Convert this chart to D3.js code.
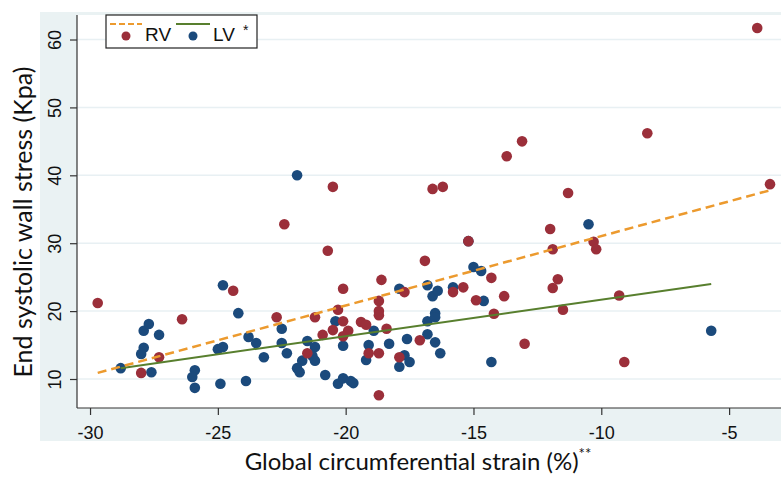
<!DOCTYPE html>
<html>
<head>
<meta charset="utf-8">
<script src="https://cdn.jsdelivr.net/npm/d3@7"></script>
<style>
  body { margin: 0; background: #fff; }
  svg { display: block; }
</style>
</head>
<body>
<div id="chart"></div>
<script>
// RV points (strain %, wall stress Kpa)
var rvStrain = [-29.7,-26.4,-27.3,-28.0,-24.4,-22.7,-21.2,-21.5,-20.7,-16.9,-15.2,-11.9,-14.3,-11.7,-11.9,-18.6,-20.1,-17.7,-15.8,-15.4,
  -18.7,-14.9,-13.8,-20.3,-18.7,-18.7,-20.1,-19.4,-19.2,-18.4,-20.5,-19.9,-20.9,-20.1,-14.2,-13.0,-17.1,-19.1,-18.7,-17.9,
  -18.7,-20.5,-16.6,-16.2,-13.7,-13.1,-22.4,-3.9,-8.2,-3.4,-11.3,-12.0,-10.3,-10.2,-9.3,-11.5,-9.1];
var rvStress = [21.2,18.8,13.2,10.9,23.0,19.1,19.1,13.8,28.9,27.4,30.3,29.1,24.9,24.7,23.4,24.6,23.3,22.8,22.8,23.5,
  21.5,21.6,22.2,20.2,20.0,19.4,18.5,18.4,18.0,17.4,17.2,17.1,16.5,16.3,19.6,15.2,15.7,13.8,13.8,13.2,
  7.6,38.3,38.0,38.3,42.8,45.0,32.8,61.7,46.2,38.7,37.4,32.1,30.2,29.1,22.3,20.2,12.5];

// LV points
var lvStrain = [-28.8,-27.9,-27.7,-27.3,-27.9,-28.0,-27.6,-24.8,-24.2,-23.8,-23.5,-23.2,-25.0,-24.8,-25.9,-26.0,-25.9,-24.9,-23.9,-22.5,
  -22.5,-22.3,-21.5,-21.2,-21.3,-21.2,-21.7,-21.9,-21.8,-20.8,-20.4,-20.1,-20.3,-20.1,-19.8,-19.7,-19.1,-19.2,-18.9,-18.3,
  -17.6,-17.7,-17.5,-17.9,-17.9,-16.8,-16.6,-16.4,-16.8,-16.5,-16.5,-16.8,-16.5,-16.3,-15.8,-15.0,-14.7,-14.6,-14.3,-15.2,
  -10.5,-5.7,-21.9];
var lvStress = [11.6,17.1,18.1,16.5,14.6,13.7,11.0,23.8,19.7,16.2,15.3,13.2,14.4,14.7,11.3,10.3,8.7,9.3,9.7,17.4,
  15.3,13.8,15.6,14.7,13.4,12.7,12.7,11.6,11.0,10.6,18.5,14.9,9.3,10.1,9.7,9.4,15.0,12.8,17.1,15.2,
  15.9,13.5,12.5,11.8,23.3,23.8,22.2,23.0,18.5,19.7,19.1,16.6,15.4,13.8,23.5,26.5,25.9,21.5,12.5,30.3,
  32.8,17.1,40.0];

// fitted lines (end points)
var rvFitX = [-29.7, -3.4];
var rvFitY = [10.9, 37.8];
var lvFitX = [-28.8, -5.7];
var lvFitY = [11.6, 24.0];

var xTicks = [-30, -25, -20, -15, -10, -5];
var yTicks = [10, 20, 30, 40, 50, 60];

var width = 781, height = 477;
var plot = {left: 77, right: 781, top: 15, bottom: 408};

var svg = d3.select('#chart')
  .append('svg')
  .attr('width', width)
  .attr('height', height);

// graph region (light blue) and plot region (white)
svg.append('rect')
  .attr('x', 40).attr('y', 12)
  .attr('width', width - 40).attr('height', 441 - 12)
  .attr('fill', '#eaf2f3');
svg.append('rect')
  .attr('x', plot.left).attr('y', plot.top)
  .attr('width', plot.right - plot.left).attr('height', plot.bottom - plot.top)
  .attr('fill', '#fff');

var x = d3.scaleLinear().domain([-30.51, -2.97]).range([plot.left, plot.right]);
var y = d3.scaleLinear().domain([5.73, 63.61]).range([plot.bottom, plot.top]);

// grid
svg.append('g')
  .selectAll('line')
  .data(yTicks)
  .enter()
  .append('line')
  .attr('x1', plot.left).attr('x2', plot.right)
  .attr('y1', function(d) { return y(d); })
  .attr('y2', function(d) { return y(d); })
  .attr('stroke', '#e8f0f3')
  .attr('stroke-width', 1.5);

// axes
var axisY = d3.axisLeft(y).tickValues(yTicks).tickSize(7).tickSizeOuter(0);
var axisYG = svg.append('g')
  .attr('transform', 'translate(' + plot.left + ',0)')
  .call(axisY);
axisYG.select('.domain').attr('stroke', '#333').attr('stroke-width', 1.2)
  .attr('d', 'M0,' + plot.top + 'V' + plot.bottom);
axisYG.selectAll('.tick line').attr('stroke', '#333').attr('stroke-width', 1.2);
axisYG.selectAll('.tick text')
  .attr('font-family', 'Liberation Sans, Arial, sans-serif')
  .attr('font-size', 18)
  .attr('fill', '#111')
  .attr('text-anchor', 'middle')
  .attr('dy', 0)
  .attr('x', 0)
  .attr('transform', 'translate(-16,0) rotate(-90)');

var axisX = d3.axisBottom(x).tickValues(xTicks).tickSize(7).tickSizeOuter(0);
var axisXG = svg.append('g')
  .attr('transform', 'translate(0,' + plot.bottom + ')')
  .call(axisX);
axisXG.select('.domain').attr('stroke', '#333').attr('stroke-width', 1.2)
  .attr('d', 'M' + plot.left + ',0H' + plot.right);
axisXG.selectAll('.tick line').attr('stroke', '#333').attr('stroke-width', 1.2);
axisXG.selectAll('.tick text')
  .attr('font-family', 'Liberation Sans, Arial, sans-serif')
  .attr('font-size', 18)
  .attr('fill', '#111')
  .attr('y', 31)
  .attr('dy', 0)
  .text(function(d) { return d; });

// points: LV first, RV on top
var red = '#9b2f3a', blue = '#1b4a7c', orange = '#ec9a2e', green = '#587f2e';

svg.append('g')
  .selectAll('circle')
  .data(d3.range(lvStrain.length))
  .enter()
  .append('circle')
  .attr('cx', function(i) { return x(lvStrain[i]); })
  .attr('cy', function(i) { return y(lvStress[i]); })
  .attr('r', 5.3)
  .attr('fill', blue);

svg.append('g')
  .selectAll('circle')
  .data(d3.range(rvStrain.length))
  .enter()
  .append('circle')
  .attr('cx', function(i) { return x(rvStrain[i]); })
  .attr('cy', function(i) { return y(rvStress[i]); })
  .attr('r', 5.3)
  .attr('fill', red);

// fit lines
var line = d3.line()
  .x(function(d) { return x(d[0]); })
  .y(function(d) { return y(d[1]); });

svg.append('path')
  .datum(d3.zip(lvFitX, lvFitY))
  .attr('d', line)
  .attr('fill', 'none')
  .attr('stroke', green)
  .attr('stroke-width', 2);

svg.append('path')
  .datum(d3.zip(rvFitX, rvFitY))
  .attr('d', line)
  .attr('fill', 'none')
  .attr('stroke', orange)
  .attr('stroke-width', 2.5)
  .attr('stroke-dasharray', '9,5');

// axis titles
svg.append('text')
  .attr('transform', 'translate(32,222) rotate(-90)')
  .attr('text-anchor', 'middle')
  .attr('font-family', 'Lato, sans-serif')
  .attr('font-size', 25)
  .attr('fill', '#111')
  .text('End systolic wall stress (Kpa)');

var xt = svg.append('text')
  .attr('x', 418)
  .attr('y', 470)
  .attr('text-anchor', 'middle')
  .attr('font-family', 'Lato, sans-serif')
  .attr('font-size', 24)
  .attr('fill', '#111');
xt.append('tspan').text('Global circumferential strain (%)');
xt.append('tspan').attr('font-size', 15).attr('dy', -11).text('**');

// legend
var lg = svg.append('g');
lg.append('rect')
  .attr('x', 106).attr('y', 15)
  .attr('width', 151).attr('height', 33)
  .attr('fill', '#fff')
  .attr('stroke', '#222')
  .attr('stroke-width', 1.2);
lg.append('line')
  .attr('x1', 110).attr('x2', 142).attr('y1', 24).attr('y2', 24)
  .attr('stroke', orange).attr('stroke-width', 2).attr('stroke-dasharray', '6,3');
lg.append('circle').attr('cx', 126).attr('cy', 36).attr('r', 4.5).attr('fill', red);
lg.append('text')
  .attr('x', 145).attr('y', 41)
  .attr('font-family', 'Liberation Sans, Arial, sans-serif')
  .attr('font-size', 19)
  .attr('fill', '#111')
  .text('RV');
lg.append('line')
  .attr('x1', 176).attr('x2', 210).attr('y1', 24).attr('y2', 24)
  .attr('stroke', green).attr('stroke-width', 2);
lg.append('circle').attr('cx', 193).attr('cy', 36).attr('r', 4.5).attr('fill', blue);
lg.append('text')
  .attr('x', 213).attr('y', 41)
  .attr('font-family', 'Liberation Sans, Arial, sans-serif')
  .attr('font-size', 19)
  .attr('fill', '#111')
  .text('LV');
lg.append('text')
  .attr('x', 243).attr('y', 35)
  .attr('font-family', 'Liberation Sans, Arial, sans-serif')
  .attr('font-size', 14)
  .attr('fill', '#111')
  .text('*');
</script>
</body>
</html>
